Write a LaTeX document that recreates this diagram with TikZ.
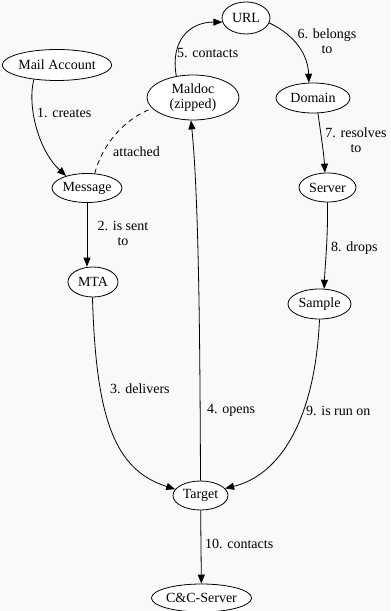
\documentclass[tikz,border=0pt]{standalone}
\usepackage{fontspec}
\newfontfamily\tnr{Liberation Serif}
\usetikzlibrary{shapes.geometric,arrows.meta}
\definecolor{bgc}{RGB}{249,249,249}
\tikzset{
  ent/.style={ellipse,draw=black,fill=white,line width=0.8bp,inner sep=0pt,align=center,
    font=\tnr\fontsize{14bp}{15bp}\selectfont},
  lbl/.style={inner sep=0pt,align=center,font=\tnr\fontsize{14bp}{15bp}\selectfont},
  arr/.style={line width=0.8bp,-{Triangle[length=9bp,width=7bp]}},
  dsh/.style={line width=0.8bp,dash pattern=on 5bp off 4bp}
}
\begin{document}
\begin{tikzpicture}[x=1bp,y=-1bp]
\fill[bgc] (0,0) rectangle (390,611);
\useasboundingbox (0,0) rectangle (390,611);

\node[ent,minimum width=98bp,minimum height=31bp] (mail) at (57,65) {Mail Account};
\node[ent,minimum width=70bp,minimum height=29bp] (msg) at (87,188) {Message};
\node[ent,minimum width=92bp,minimum height=45bp] (mal) at (193,97.5) {Maldoc\\(zipped)};
\node[ent,minimum width=48bp,minimum height=32bp] (url) at (246,18) {URL};
\node[ent,minimum width=74bp,minimum height=30bp] (dom) at (313,98) {Domain};
\node[ent,minimum width=57bp,minimum height=29bp] (srv) at (327.5,187.5) {Server};
\node[ent,minimum width=50bp,minimum height=30bp] (mta) at (93,282) {MTA};
\node[ent,minimum width=63bp,minimum height=30bp] (smp) at (319.5,304) {Sample};
\node[ent,minimum width=55bp,minimum height=29bp] (tgt) at (200.5,495.5) {Target};
\node[ent,minimum width=93bp,minimum height=28bp] (cnc) at (201.5,598) {C\&C-Server};

% edges
\draw[arr] (mail.212) .. controls (27,105) and (38,150) .. (msg.150);
\draw[dsh] (msg.62) .. controls (102,145) and (125,118) .. (mal.195);
\draw[arr] (msg.south) -- (msg.south |- mta.north);
\draw[arr] (mta.268) .. controls (96,420) and (115,470) .. (tgt.166);
\draw[arr] (tgt.north) .. controls (200,350) and (199,200) .. (mal.265);
\draw[arr] (mal.128) .. controls (170,40) and (190,22) .. (url.190);
\draw[arr] (url.-12) .. controls (295,35) and (308,55) .. (dom.105);
\draw[arr] (dom.-72) .. controls (321,135) and (324,155) .. (srv.100);
\draw[arr] (srv.270) .. controls (328,240) and (325,265) .. (smp.73);
\draw[arr] (smp.270) .. controls (315,420) and (280,475) .. (tgt.16);
\draw[arr] (tgt) -- (cnc);

% labels
\node[lbl,anchor=base west] (l1) at (37,118) {1. creates};
\node[lbl,anchor=base west] (la) at (113,157) {attached};
\node[lbl,anchor=base] (l2) at (123,245) {2. is sent\\to};
\node[lbl,anchor=base west] (l3) at (110,393) {3. delivers};
\node[lbl,anchor=base west] (l4) at (207,413) {4. opens};
\node[lbl,anchor=base west] (l5) at (177,58) {5. contacts};
\node[lbl,anchor=base] (l6) at (327,54) {6. belongs\\to};
\node[lbl,anchor=base] (l7) at (356,153) {7. resolves\\to};
\node[lbl,anchor=base west] (l8) at (331,251) {8. drops};
\node[lbl,anchor=base west] (l9) at (306,415) {9. is run on};
\node[lbl,anchor=base west] (l10) at (205,548) {10. contacts};
\end{tikzpicture}
\end{document}
